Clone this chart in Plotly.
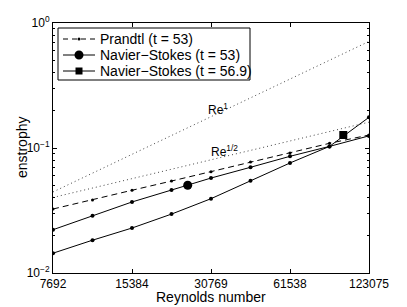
import plotly.graph_objects as go

# Reynolds numbers used in the runs
reynolds = [7692, 10878, 15384, 21756, 30769, 43513, 61538, 87025, 123075]

# enstrophy values
prandtl_t53 = [0.0325, 0.0384, 0.0459, 0.0544, 0.0646, 0.0773, 0.0912, 0.109, 0.127]
ns_t53 = [0.0222, 0.0287, 0.0370, 0.0461, 0.0575, 0.0701, 0.0858, 0.103, 0.125]
ns_t569 = [0.0144, 0.0183, 0.0229, 0.0296, 0.0393, 0.0547, 0.0759, 0.103, 0.176]

# highlighted points on the two Navier-Stokes curves
circle_re, circle_val = [25080], [0.0503]
square_re, square_val = [98230], [0.127]

# reference slopes (end points)
slope_re = [7692, 123075]
re_one = [0.0445, 0.712]
re_half = [0.0402, 0.161]

legend_labels = ["Prandtl (t = 53)", "Navier−Stokes (t = 53)", "Navier−Stokes (t = 56.9)"]

x_ticks = [7692, 15384, 30769, 61538, 123075]
y_ticks = [0.01, 0.1, 1]
y_ticktext = ["10<sup>−2</sup>", "10<sup>−1</sup>", "10<sup>0</sup>"]
y_minor = [m * d for d in (0.01, 0.1) for m in range(2, 10)]

FONT = "Liberation Sans, Arial, Helvetica, sans-serif"

# the page body adds an 8px margin, so the figure is drawn 8px in from the window
OFF = 8
W, H = 407 - OFF, 307 - OFF
L, T = 53 - OFF, 23 - OFF
R = 407 - 369           # plot box ends at x=369 on screen
B = H - (273 - OFF)     # and at y=273


def px(x):
    # screen column -> paper x
    return (x - OFF - L) / (W - L - R)


def py(y):
    # screen row -> paper y
    return (H - B - (y - OFF)) / (H - T - B)


fig = go.Figure()

# reference power laws
for vals in (re_one, re_half):
    fig.add_trace(go.Scatter(
        x=slope_re, y=vals, mode="lines", showlegend=False,
        line=dict(color="#444", width=1, dash="1px,3px"), hoverinfo="skip"))

fig.add_trace(go.Scatter(
    x=reynolds, y=prandtl_t53, mode="lines+markers", name=legend_labels[0],
    line=dict(color="black", width=1, dash="6px,4px"),
    marker=dict(color="black", size=3)))

fig.add_trace(go.Scatter(
    x=reynolds, y=ns_t53, mode="lines+markers", name=legend_labels[1],
    line=dict(color="black", width=1), marker=dict(color="black", size=4)))
fig.add_trace(go.Scatter(
    x=circle_re, y=circle_val, mode="markers", name=legend_labels[1],
    marker=dict(color="black", size=9, symbol="circle")))

fig.add_trace(go.Scatter(
    x=reynolds, y=ns_t569, mode="lines+markers", name=legend_labels[2],
    line=dict(color="black", width=1), marker=dict(color="black", size=4)))
fig.add_trace(go.Scatter(
    x=square_re, y=square_val, mode="markers", name=legend_labels[2],
    marker=dict(color="black", size=8, symbol="square")))

fig.add_annotation(x=4.515, y=-0.688, xref="x", yref="y", text="Re<sup>1</sup>",
                   showarrow=False, font=dict(size=12, color="black", family=FONT))
fig.add_annotation(x=4.54, y=-1.024, xref="x", yref="y", text="Re<sup>1/2</sup>",
                   showarrow=False, font=dict(size=12, color="black", family=FONT))

# legend box drawn by hand (Plotly's own legend rows are too tall here)
fig.add_shape(type="rect", xref="paper", yref="paper",
              x0=px(58), x1=px(250), y0=py(80), y1=py(28),
              line=dict(color="black", width=1), fillcolor="white", layer="above")
rows = [39, 55, 71]
for row, label in zip(rows, legend_labels):
    fig.add_shape(type="line", xref="paper", yref="paper",
                  x0=px(63), x1=px(95), y0=py(row), y1=py(row), layer="above",
                  line=dict(color="black", width=1,
                            dash="5px,4px" if row == rows[0] else "solid"))
    fig.add_annotation(x=px(98), y=py(row), xref="paper", yref="paper",
                       text=label, showarrow=False, xanchor="left", yanchor="middle",
                       font=dict(size=14, color="black", family=FONT))
fig.add_shape(type="circle", xref="paper", yref="paper", layer="above",
              x0=px(77.5), x1=px(80.5), y0=py(40.5), y1=py(37.5),
              fillcolor="black", line=dict(color="black", width=0))
fig.add_shape(type="circle", xref="paper", yref="paper", layer="above",
              x0=px(74.5), x1=px(83.5), y0=py(59.5), y1=py(50.5),
              fillcolor="black", line=dict(color="black", width=0))
fig.add_shape(type="rect", xref="paper", yref="paper", layer="above",
              x0=px(75.5), x1=px(82.5), y0=py(74.5), y1=py(67.5),
              fillcolor="black", line=dict(color="black", width=0))

# axis titles placed by hand so the margins stay fixed
fig.add_annotation(x=0.5, y=py(306), xref="paper", yref="paper",
                   text="Reynolds number", showarrow=False, yanchor="bottom",
                   borderpad=0, font=dict(size=14, color="black", family=FONT))
fig.add_annotation(x=px(13), y=0.5, xref="paper", yref="paper",
                   text="enstrophy", showarrow=False, textangle=-90,
                   borderpad=0, font=dict(size=14, color="black", family=FONT))

axis_common = dict(
    showgrid=False, zeroline=False, showline=True, linecolor="black", linewidth=1,
    mirror="ticks", ticks="inside", ticklen=4, tickcolor="black", automargin=False)

fig.update_xaxes(
    type="log", range=[3.8860, 5.0902], tickvals=x_ticks,
    ticktext=[str(v) for v in x_ticks],
    tickfont=dict(size=12, color="black", family=FONT), **axis_common)
fig.update_yaxes(
    type="log", range=[-2, 0], tickvals=y_ticks, ticktext=y_ticktext,
    minor=dict(tickvals=y_minor, ticks="inside", ticklen=2, tickcolor="black"),
    tickfont=dict(size=12, color="black", family=FONT), **axis_common)

fig.update_layout(
    width=W, height=H,
    margin=dict(l=L, r=R, t=T, b=B, autoexpand=False),
    paper_bgcolor="white", plot_bgcolor="white",
    font=dict(family=FONT, size=13, color="black"),
    showlegend=False,
)

fig.write_html("out.html")
